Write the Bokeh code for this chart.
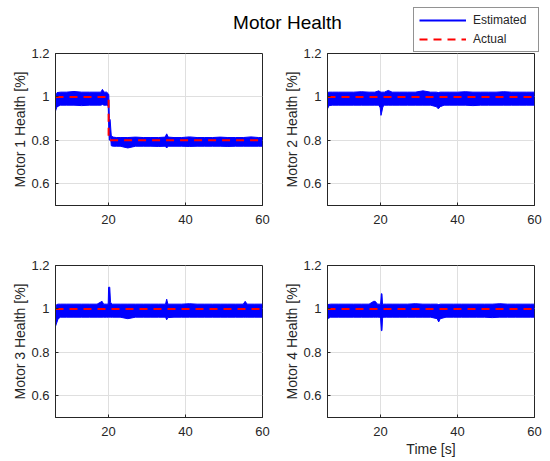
from bokeh.plotting import figure
from bokeh.layouts import column, row
from bokeh.models import Range1d, FixedTicker, Legend, LegendItem, Label
from bokeh.embed import file_html
from bokeh.resources import INLINE

# ---------------- data ----------------
xticks = [20, 40, 60]
yticks = [0.6, 0.8, 1.0, 1.2]
ytick_labels = ["0.6", "0.8", "1", "1.2"]

# Motor 1 estimated band (time, lower, upper)
t1 = [6.2, 6.6, 7.5, 9, 11, 13, 15, 17, 18, 18.4, 18.8, 19.5, 19.9, 20.05, 20.2, 20.4, 20.7, 21.2, 22, 23,
      25, 27, 29, 31, 33, 34.7, 35.1, 35.5, 37, 39, 41, 43, 45, 47, 49, 51, 53, 55, 57, 59, 60]
hi1 = [1.0, 1.02, 1.022, 1.022, 1.025, 1.022, 1.022, 1.022, 1.022, 1.035, 1.022, 1.022, 1.015, 1.01, 0.9, 0.895, 0.82, 0.815, 0.813, 0.813,
       0.813, 0.815, 0.813, 0.813, 0.813, 0.815, 0.83, 0.815, 0.813, 0.813, 0.816, 0.813, 0.813, 0.813, 0.815, 0.813, 0.813, 0.813, 0.816, 0.813, 0.813]
lo1 = [0.935, 0.955, 0.962, 0.962, 0.962, 0.96, 0.962, 0.962, 0.962, 0.965, 0.962, 0.962, 0.96, 0.85, 0.8, 0.84, 0.775, 0.773, 0.773, 0.773,
       0.765, 0.773, 0.773, 0.773, 0.772, 0.773, 0.765, 0.773, 0.773, 0.773, 0.772, 0.773, 0.773, 0.773, 0.773, 0.772, 0.773, 0.773, 0.773, 0.773, 0.773]
ta1 = [6.2, 20, 20, 60]
ya1 = [1.0, 1.0, 0.8, 0.8]

# Motor 2
t2 = [6.2, 6.6, 7.5, 9, 11, 13, 15, 17, 18.5, 19.5, 19.9, 20.1, 20.3, 20.6, 21, 22, 23, 25, 27, 29,
      31, 33, 34.5, 35, 35.5, 36.5, 38, 40, 42, 44, 46, 48, 50, 52, 54, 56, 58, 60]
hi2 = [1.02, 1.022, 1.022, 1.022, 1.022, 1.022, 1.024, 1.022, 1.022, 1.028, 1.024, 1.022, 1.022, 1.022, 1.022, 1.03, 1.022, 1.022, 1.022, 1.022,
       1.028, 1.022, 1.022, 1.02, 1.022, 1.022, 1.022, 1.022, 1.024, 1.022, 1.022, 1.022, 1.022, 1.024, 1.022, 1.022, 1.022, 1.022]
lo2 = [0.945, 0.96, 0.962, 0.962, 0.962, 0.962, 0.962, 0.962, 0.962, 0.962, 0.95, 0.915, 0.93, 0.955, 0.962, 0.962, 0.962, 0.962, 0.962, 0.962,
       0.962, 0.962, 0.955, 0.945, 0.955, 0.962, 0.962, 0.962, 0.962, 0.96, 0.962, 0.962, 0.962, 0.962, 0.962, 0.962, 0.962, 0.962]
ta2 = [6.2, 60]
ya2 = [1.0, 1.0]

# Motor 3
t3 = [6.2, 6.5, 6.9, 7.5, 9, 11, 13, 15, 17, 18.3, 18.7, 19.5, 19.9, 20.0, 20.3, 20.5, 21, 23, 25, 27,
      29, 31, 33, 34.8, 35.1, 35.4, 37, 39, 41, 43, 45, 47, 49, 51, 53, 55, 55.5, 56, 58, 60]
hi3 = [1.0, 1.02, 1.022, 1.022, 1.022, 1.022, 1.022, 1.022, 1.022, 1.035, 1.022, 1.022, 1.022, 1.1, 1.1, 1.03, 1.022, 1.022, 1.022, 1.022,
       1.022, 1.022, 1.022, 1.022, 1.045, 1.022, 1.022, 1.022, 1.024, 1.022, 1.022, 1.022, 1.022, 1.022, 1.022, 1.022, 1.035, 1.022, 1.022, 1.022]
lo3 = [0.92, 0.935, 0.955, 0.962, 0.962, 0.962, 0.962, 0.962, 0.962, 0.962, 0.962, 0.962, 0.962, 0.962, 0.962, 0.962, 0.962, 0.962, 0.955, 0.962,
       0.962, 0.962, 0.962, 0.962, 0.95, 0.96, 0.962, 0.962, 0.962, 0.962, 0.962, 0.962, 0.962, 0.962, 0.962, 0.962, 0.962, 0.962, 0.962, 0.962]
ta3 = [6.2, 60]
ya3 = [1.0, 1.0]

# Motor 4
t4 = [6.2, 7, 9, 11, 13, 15, 17, 18.2, 18.6, 19.2, 19.8, 20.0, 20.2, 20.35, 20.5, 20.7, 21.5, 23, 25, 27,
      29, 31, 33, 34.7, 35.1, 35.5, 37, 39, 41, 43, 45, 47, 49, 51, 53, 55, 57, 59, 60]
hi4 = [1.02, 1.022, 1.022, 1.022, 1.022, 1.022, 1.022, 1.035, 1.035, 1.022, 1.022, 1.022, 1.07, 1.07, 1.022, 1.022, 1.022, 1.022, 1.022, 1.022,
       1.024, 1.022, 1.022, 1.022, 1.02, 1.022, 1.022, 1.022, 1.022, 1.022, 1.022, 1.022, 1.022, 1.024, 1.022, 1.022, 1.022, 1.022, 1.022]
lo4 = [0.955, 0.962, 0.962, 0.962, 0.962, 0.962, 0.962, 0.962, 0.962, 0.962, 0.962, 0.955, 0.9, 0.9, 0.955, 0.962, 0.962, 0.962, 0.962, 0.962,
       0.962, 0.962, 0.962, 0.955, 0.94, 0.955, 0.962, 0.962, 0.962, 0.962, 0.962, 0.962, 0.96, 0.962, 0.962, 0.962, 0.962, 0.962, 0.962]
ta4 = [6.2, 60]
ya4 = [1.0, 1.0]

# ---------------- styling ----------------
FONT = "Liberation Sans"
AX = "#262626"
GRID = "#dfdfdf"
BLUE = "#0000ff"
RED = "#ff0000"
DASH = "8 6"


def panel(t, lo, hi, ta, ya, ylabel, xlabel, top, bottom, left, right):
    p = figure(frame_width=207, frame_height=152,
               min_border_top=top, min_border_bottom=bottom,
               min_border_left=left, min_border_right=right,
               x_range=Range1d(6.2, 60), y_range=Range1d(0.5, 1.2),
               output_backend="svg", toolbar_location=None,
               border_fill_color=None, background_fill_color="white")
    p.varea(x=t, y1=lo, y2=hi, fill_color=BLUE, fill_alpha=1.0)
    p.line(x=t, y=hi, line_color=BLUE, line_width=1)
    p.line(x=t, y=lo, line_color=BLUE, line_width=1)
    p.line(x=ta, y=ya, line_color=RED, line_width=2, line_dash=DASH)

    p.xaxis.ticker = FixedTicker(ticks=xticks)
    p.yaxis.ticker = FixedTicker(ticks=yticks)
    p.yaxis.major_label_overrides = dict(zip(yticks, ytick_labels))
    for ax in (p.xaxis[0], p.yaxis[0]):
        ax.axis_line_color = AX
        ax.major_tick_line_color = AX
        ax.major_tick_in = 3
        ax.major_tick_out = 0
        ax.minor_tick_line_color = None
        ax.major_label_text_font = FONT
        ax.major_label_text_font_size = "13px"
        ax.major_label_text_color = AX
        ax.axis_label_text_font = FONT
        ax.axis_label_text_font_size = "14px"
        ax.axis_label_text_font_style = "normal"
        ax.axis_label_text_color = AX
    p.yaxis.major_label_standoff = 6
    p.xaxis.major_label_standoff = 9
    p.yaxis.axis_label = ylabel
    p.yaxis.axis_label_standoff = 0
    if xlabel:
        p.xaxis.axis_label = xlabel
        p.xaxis.axis_label_standoff = 2
    p.grid.grid_line_color = GRID
    p.grid.grid_line_width = 1
    p.outline_line_color = AX
    p.outline_line_width = 1
    return p


p1 = panel(t1, lo1, hi1, ta1, ya1, "Motor 1 Health [%]", None, 12, 30, 55, 13)
p2 = panel(t2, lo2, hi2, ta2, ya2, "Motor 2 Health [%]", None, 12, 30, 52, 16)
p3 = panel(t3, lo3, hi3, ta3, ya3, "Motor 3 Health [%]", None, 30, 44, 55, 13)
p4 = panel(t4, lo4, hi4, ta4, ya4, "Motor 4 Health [%]", "Time [s]", 30, 44, 52, 16)

# header with title and legend (legend proxies reuse series that fall outside the header's ranges)
hdr = figure(width=550, height=53, x_range=Range1d(100, 200), y_range=Range1d(0, 1),
             x_axis_type=None, y_axis_type=None, min_border=0,
             output_backend="svg", toolbar_location=None, border_fill_color=None,
             background_fill_color=None)
hdr.grid.visible = False
hdr.outline_line_color = None
hdr.margin = (0, 0, -12, 0)
r_est = hdr.line(x=t2, y=hi2, line_color=BLUE, line_width=2)
r_act = hdr.line(x=ta2, y=ya2, line_color=RED, line_width=2, line_dash=DASH)
leg = Legend(items=[LegendItem(label="Estimated", renderers=[r_est]),
                    LegendItem(label="Actual", renderers=[r_act])],
             location=(413, 1), orientation="vertical",
             padding=5, spacing=5, margin=0,
             glyph_width=47, glyph_height=14, label_height=14, label_width=60,
             label_standoff=7,
             label_text_font=FONT, label_text_font_size="12px", label_text_color=AX,
             border_line_color=AX, border_line_width=1,
             background_fill_color="white", background_fill_alpha=1.0)
hdr.add_layout(leg)
hdr.add_layout(Label(x=287, y=31, x_units="screen", y_units="screen",
                     text="Motor Health", text_align="center",
                     text_baseline="middle", text_font=FONT, text_font_size="19px",
                     text_color="black"))

layout = column(hdr, row(p1, p2), row(p3, p4))

open("out.html", "w").write(file_html(layout, INLINE))
